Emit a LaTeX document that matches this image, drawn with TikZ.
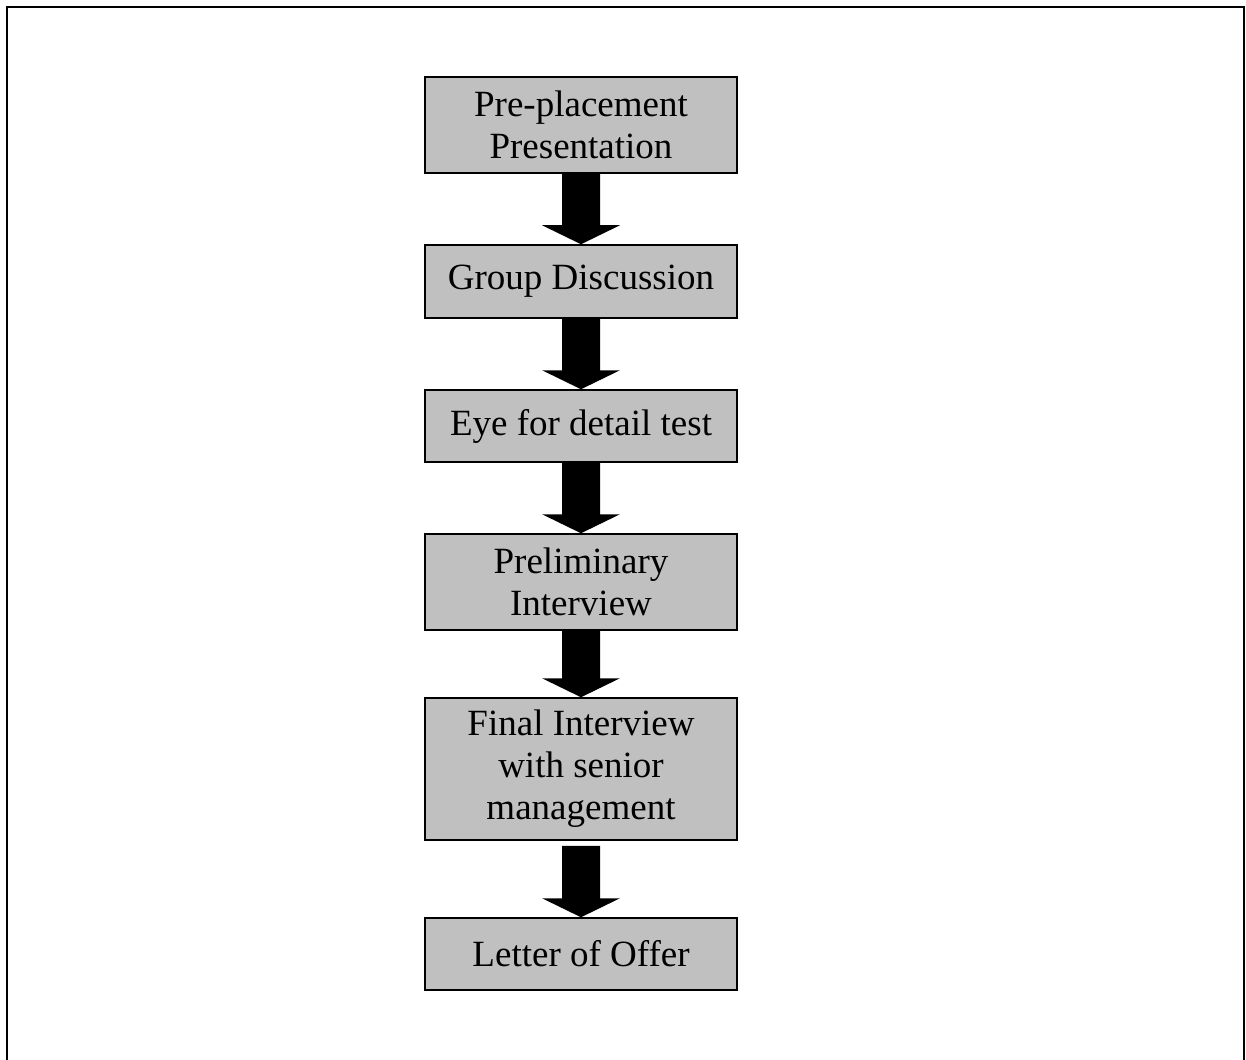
\documentclass[tikz,border=0pt]{standalone}
\usepackage{fontspec}
\setmainfont{Liberation Serif}
\usetikzlibrary{calc}
\definecolor{boxgray}{HTML}{C0C0C0}
\tikzset{
  stagebox/.style={draw=black, line width=1.5pt, fill=boxgray, rectangle,
    minimum width=312pt, inner sep=0pt, align=center,
    font=\fontsize{37}{42}\selectfont},
}
% block arrow from the bottom of one box to the top of the next
\newcommand\blockarrow[3]{%
  \path let \p1=(#1.south), \p2=(#2.north) in
    [fill=black] (\x1-19pt,\y1-#3pt) -- (\x1+19pt,\y1-#3pt) -- (\x1+19pt,\y2+19pt)
    -- (\x1+39pt,\y2+19pt) -- (\x1,\y2) -- (\x1-39pt,\y2+19pt)
    -- (\x1-19pt,\y2+19pt) -- cycle;%
}
\begin{document}
\begin{tikzpicture}[x=1pt,y=-1pt]
\useasboundingbox (0,0) rectangle (1246,1059);
\draw[line width=1.8pt] (6.8,1075) -- (6.8,6.8) -- (1244.3,6.8) -- (1244.3,1075);

\node[stagebox, minimum height=96pt]  (pp)  at (581,125)   {Pre-placement\\Presentation};
\node[stagebox, minimum height=73pt]  (gd)  at (581,281.5) {Group Discussion};
\node[stagebox, minimum height=72pt]  (eye) at (581,426)   {Eye for detail test};
\node[stagebox, minimum height=96pt]  (pi)  at (581,582)   {Preliminary\\Interview};
\node[stagebox, minimum height=142pt] (fi)  at (581,769)   {Final Interview\\with senior\\management};
\node[stagebox, minimum height=72pt]  (lo)  at (581,954)   {Letter of Offer};

\blockarrow{pp}{gd}{0}
\blockarrow{gd}{eye}{0}
\blockarrow{eye}{pi}{0}
\blockarrow{pi}{fi}{0}
\blockarrow{fi}{lo}{5}
\end{tikzpicture}
\end{document}
